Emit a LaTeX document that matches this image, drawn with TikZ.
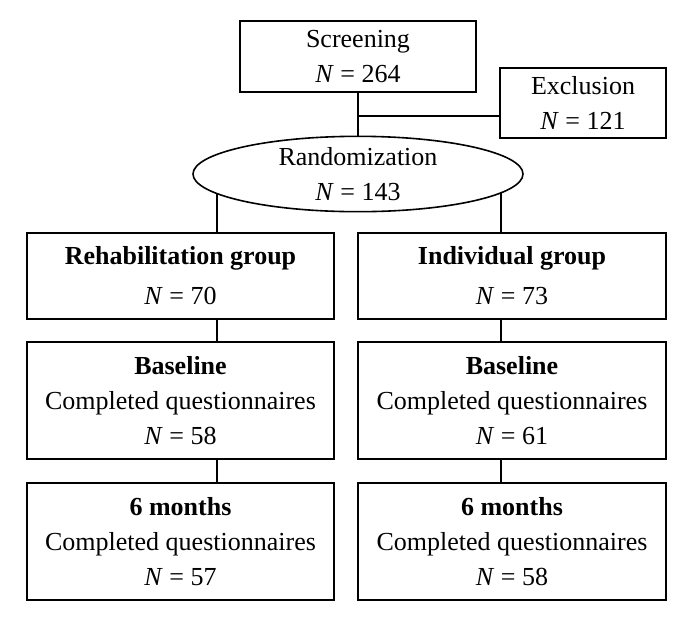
\documentclass[tikz,border=0pt]{standalone}
\usepackage{fontspec}
\setmainfont{Liberation Serif}
\usetikzlibrary{positioning, shapes.geometric, backgrounds}

\tikzset{
  flowbox/.style={draw, line width=1.6pt, align=center, inner sep=0pt,
    font=\fontsize{26}{35}\selectfont},
  randoval/.style={flowbox, ellipse, fill=white},
  link/.style={line width=1.6pt},
}
\newcommand{\nval}[1]{\textit{N} = #1}

\begin{document}
\begin{tikzpicture}[x=1pt, y=-1pt]
  \useasboundingbox (0,0) rectangle (685,619);

  %% Top part
  \node[flowbox, minimum width=236, minimum height=71] (screen) at (358,56.5)
    {Screening\\ \nval{264}};
  \node[flowbox, minimum width=166, minimum height=70] (excl) at (583,103)
    {Exclusion\\ \nval{121}};
  \node[randoval, minimum width=330, minimum height=72] (rand) at (358,174)
    {Randomization\\ \nval{143}};

  %% Groups
  \node[flowbox, minimum width=307, minimum height=86] (rehab) at (180.5,276)
    {\textbf{Rehabilitation group}\\[5pt] \nval{70}};
  \node[flowbox, minimum width=308, minimum height=86] (indiv) at (512,276)
    {\textbf{Individual group}\\[5pt] \nval{73}};

  %% Baseline
  \node[flowbox, minimum width=307, minimum height=117] (baseL) at (180.5,400.5)
    {\textbf{Baseline}\\ Completed questionnaires\\ \nval{58}};
  \node[flowbox, minimum width=308, minimum height=117] (baseR) at (512,400.5)
    {\textbf{Baseline}\\ Completed questionnaires\\ \nval{61}};

  %% 6 months
  \node[flowbox, minimum width=307, minimum height=117] (sixL) at (180.5,541.5)
    {\textbf{6 months}\\ Completed questionnaires\\ \nval{57}};
  \node[flowbox, minimum width=308, minimum height=117] (sixR) at (512,541.5)
    {\textbf{6 months}\\ Completed questionnaires\\ \nval{58}};

  %% Connectors
  \coordinate (tap) at (358,116);
  \coordinate (lx) at (217,0);
  \coordinate (rx) at (501,0);
  \draw[link] (screen) -- (rand);
  \draw[link] (tap) -- (tap -| excl.west);
  \begin{scope}[on background layer]
    \draw[link] (rand.center -| lx) -- (rehab.north -| lx);
    \draw[link] (rand.center -| rx) -- (indiv.north -| rx);
  \end{scope}
  \draw[link] (rehab.south -| lx) -- (baseL.north -| lx);
  \draw[link] (indiv.south -| rx) -- (baseR.north -| rx);
  \draw[link] (baseL.south -| lx) -- (sixL.north -| lx);
  \draw[link] (baseR.south -| rx) -- (sixR.north -| rx);

\end{tikzpicture}
\end{document}
